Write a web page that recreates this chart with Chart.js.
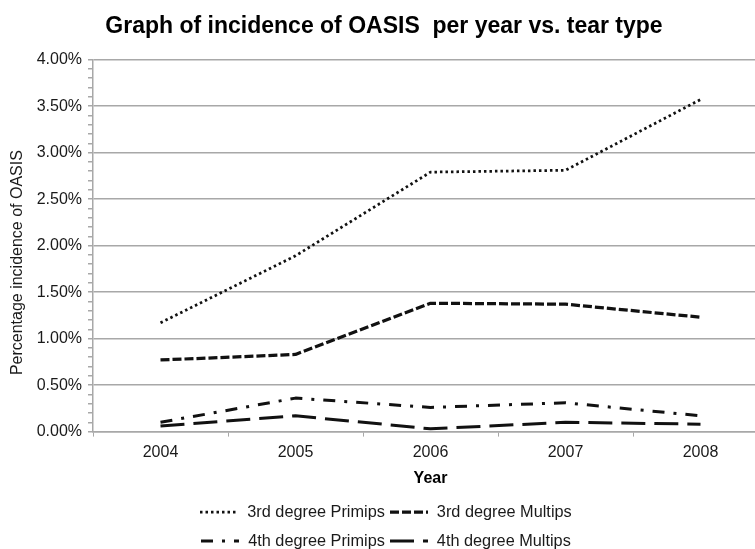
<!DOCTYPE html>
<html>
<head>
<meta charset="utf-8">
<title>OASIS incidence</title>
<script src="https://cdn.jsdelivr.net/npm/chart.js@4"></script>
<style>
  html, body { margin: 0; padding: 0; background: #fff; overflow: hidden; }
  #wrap { position: relative; width: 768px; height: 549px; }
  #legend { position: absolute; left: 2px; top: 497px; width: 768px;
            font: 16.3px "Liberation Sans", Arial, sans-serif; color: #1a1a1a; }
  .row { display: flex; justify-content: center; align-items: center; height: 29px; }
  .item { display: flex; align-items: center; margin: 0 2.5px; }
  .item canvas { margin-right: 9px; }
</style>
</head>
<body>
<div id="wrap">
  <canvas id="chart" width="768" height="549"></canvas>
  <div id="legend"></div>
</div>
<script>
// ── Dados (percentagem) ──
const years     = ['2004', '2005', '2006', '2007', '2008'];
const primips3  = [1.17, 1.89, 2.79, 2.81, 3.57];
const multips3  = [0.77, 0.83, 1.38, 1.37, 1.23];
const primips4  = [0.10, 0.36, 0.26, 0.31, 0.17];
const multips4  = [0.06, 0.17, 0.03, 0.10, 0.08];
const seriesNames = ['3rd degree Primips', '3rd degree Multips', '4th degree Primips', '4th degree Multips'];
const yTitle = 'Percentage incidence of OASIS';

const FONT = '"Liberation Sans", Arial, sans-serif';
const GRID = '#a8a8a8';
Chart.defaults.font.family = FONT;

// estilos de linha estilo Excel
const styles = [
  { dash: [2.5, 3],       width: 2.75 },
  { dash: [9, 3],         width: 3.25 },
  { dash: [12, 9, 3, 9],  width: 3 },
  { dash: [24, 9],        width: 3 },
];

const isMajor = v => Math.round(v * 10) % 5 === 0;

const datasets = [primips3, multips3, primips4, multips4].map((data, i) => ({
  label: seriesNames[i],
  data,
  borderColor: '#111',
  backgroundColor: '#111',
  borderWidth: styles[i].width,
  borderDash: styles[i].dash,
  borderJoinStyle: 'round',
  pointRadius: 0,
  tension: 0,
  fill: false,
}));

// título do eixo Y (um pouco abaixo do centro, como no Excel)
const yTitlePlugin = {
  id: 'yTitle',
  afterDraw(c) {
    const { ctx, chartArea } = c;
    ctx.save();
    ctx.translate(18, (chartArea.top + chartArea.bottom) / 2 + 17);
    ctx.rotate(-Math.PI / 2);
    ctx.font = '16px ' + FONT;
    ctx.fillStyle = '#1a1a1a';
    ctx.textAlign = 'center';
    ctx.textBaseline = 'middle';
    ctx.fillText(yTitle, 0, 0);
    ctx.restore();
  },
};

const chart = new Chart(document.getElementById('chart'), {
  type: 'line',
  data: { labels: years, datasets },
  plugins: [yTitlePlugin],
  options: {
    responsive: false,
    animation: false,
    layout: { padding: { left: 0, right: 0, top: 0, bottom: 61 } },
    plugins: {
      legend: { display: false },
      tooltip: { enabled: false },
      title: {
        display: true,
        text: 'Graph of incidence of OASIS  per year vs. tear type',
        color: '#000',
        font: { family: FONT, size: 23, weight: 'bold' },
        padding: { top: 13, bottom: 19 },
      },
    },
    scales: {
      x: {
        offset: true,
        grid: { offset: true, drawOnChartArea: false, drawTicks: true, tickLength: 5, color: GRID, lineWidth: 1 },
        border: { color: GRID, width: 1.5 },
        ticks: { color: '#1a1a1a', font: { size: 16 }, padding: 6, maxRotation: 0 },
        title: { display: true, text: 'Year', color: '#000', font: { size: 16, weight: 'bold' }, padding: { top: 1, bottom: 0 } },
      },
      y: {
        min: 0,
        max: 4,
        afterFit: s => { s.width = 93; },
        ticks: {
          stepSize: 0.1,
          autoSkip: false,
          padding: 6,
          color: '#1a1a1a',
          font: { size: 16 },
          callback: v => isMajor(v) ? v.toFixed(2) + '%' : '',
        },
        grid: {
          color: ctx => isMajor(ctx.tick.value) ? GRID : 'rgba(0,0,0,0)',
          tickColor: GRID,
          tickLength: 5,
          lineWidth: 1.5,
        },
        border: { color: GRID, width: 1.5 },
        title: { display: false },
      },
    },
  },
});

// ── Legenda em HTML (2 linhas) ──
function buildLegend(c) {
  const box = document.getElementById('legend');
  [[0, 1], [2, 3]].forEach(r => {
    const row = document.createElement('div');
    row.className = 'row';
    r.forEach(i => {
      const ds = c.data.datasets[i];
      const item = document.createElement('div');
      item.className = 'item';
      const sw = document.createElement('canvas');
      sw.width = 38; sw.height = 8;
      const g = sw.getContext('2d');
      g.strokeStyle = ds.borderColor;
      g.lineWidth = ds.borderWidth;
      g.setLineDash(ds.borderDash);
      g.beginPath(); g.moveTo(0, 4); g.lineTo(38, 4); g.stroke();
      const t = document.createElement('span');
      t.textContent = ds.label;
      item.append(sw, t);
      row.append(item);
    });
    box.append(row);
  });
}
buildLegend(chart);
</script>
</body>
</html>
